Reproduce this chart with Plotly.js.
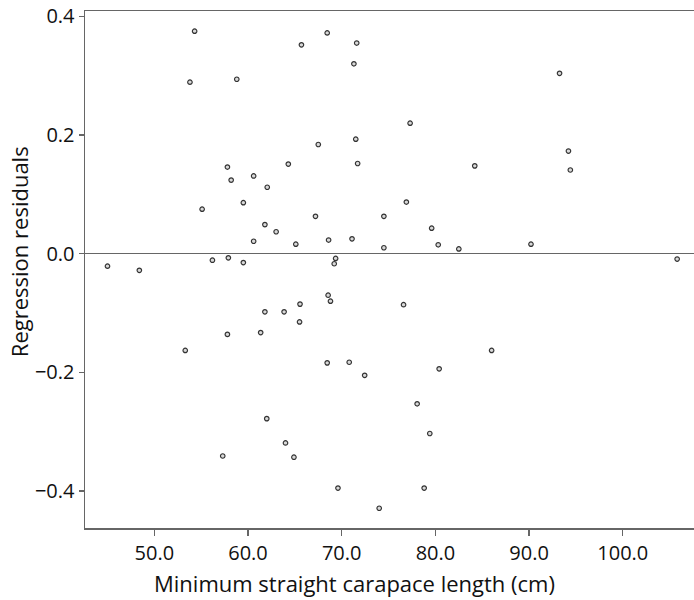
<!DOCTYPE html>
<html>
<head>
<meta charset="utf-8">
<script src="https://cdn.plot.ly/plotly-3.0.1.min.js"></script>
<style>html,body{margin:0;padding:0;background:#fff;}#chart{width:694px;height:600px;}</style>
</head>
<body>
<div id="chart"></div>
<script>
// Minimum straight carapace length (cm)
const lengthCm = [
  54.3, 53.8, 58.8, 57.8, 58.2,
  45.0, 48.4, 55.1, 56.2, 57.9, 53.3, 57.8,
  57.3,
  62.0, 64.0, 64.9, 69.6, 74.0, 78.05, 79.4, 78.8,
  59.5, 76.9, 67.2, 74.5, 61.8, 63.0, 60.6, 65.1, 68.6, 71.1, 74.5, 79.6, 80.3, 82.5,
  69.35, 69.2, 59.5, 68.55, 68.8, 65.55, 61.8, 63.85, 65.5, 61.35, 76.6, 68.45, 70.8, 72.45, 80.4,
  68.45, 65.7, 71.6, 71.3, 77.3, 71.5, 67.5, 64.3, 71.7, 60.6, 62.05, 84.2,
  93.25, 94.2, 94.4,
  90.2, 105.8, 86.0
];
// Regression residuals
const residuals = [
  0.375, 0.289, 0.294, 0.146, 0.124,
  -0.021, -0.028, 0.075, -0.011, -0.007, -0.163, -0.136,
  -0.341,
  -0.278, -0.319, -0.343, -0.395, -0.429, -0.253, -0.303, -0.395,
  0.086, 0.087, 0.063, 0.063, 0.049, 0.037, 0.021, 0.016, 0.023, 0.025, 0.010, 0.043, 0.015, 0.008,
  -0.008, -0.017, -0.015, -0.070, -0.080, -0.085, -0.098, -0.098, -0.115, -0.133, -0.086, -0.184, -0.183, -0.205, -0.194,
  0.372, 0.352, 0.355, 0.320, 0.220, 0.193, 0.184, 0.151, 0.152, 0.131, 0.112, 0.148,
  0.304, 0.173, 0.141,
  0.016, -0.009, -0.163
];
const xTitle = "Minimum straight carapace length (cm)";
const yTitle = "Regression residuals";

const font = "Open Sans, Liberation Sans, sans-serif";
const trace = {
  x: lengthCm, y: residuals, type: "scatter", mode: "markers",
  marker: {size: 4.5, color: "#d9d9d9", line: {color: "#333333", width: 1.2}},
  hoverinfo: "x+y"
};
const layout = {
  width: 694, height: 600,
  margin: {l: 85, r: 0, t: 11, b: 72},
  paper_bgcolor: "#ffffff", plot_bgcolor: "#ffffff",
  showlegend: false,
  font: {family: font, color: "#111", size: 20},
  xaxis: {
    range: [42.6, 107.6], dtick: 10, tick0: 50, tickformat: ".1f",
    showgrid: false, zeroline: false,
    showline: true, linecolor: "#666", linewidth: 1.5, mirror: true,
    ticks: "outside", ticklen: 6, tickcolor: "#666", tickwidth: 1.2,
    tickfont: {family: font, size: 20, color: "#111"}
  },
  yaxis: {
    range: [-0.4623, 0.409], dtick: 0.2, tick0: 0, tickformat: ".1f",
    showgrid: false, zeroline: true, zerolinecolor: "#666", zerolinewidth: 1.5,
    showline: true, linecolor: "#666", linewidth: 1.5,
    ticks: "outside", ticklen: 5, tickcolor: "#666", tickwidth: 1.2,
    tickfont: {family: font, size: 20, color: "#111"}
  },
  annotations: [
    {text: xTitle, xref: "paper", yref: "paper", x: (354 - 85) / 609, y: -0.107,
     xanchor: "center", yanchor: "middle", showarrow: false,
     font: {family: font, size: 22, color: "#111"}},
    {text: yTitle, xref: "paper", yref: "paper", x: (19 - 85) / 609, y: 0.5336,
     xanchor: "center", yanchor: "middle", showarrow: false, textangle: -90,
     font: {family: font, size: 22, color: "#111"}}
  ]
};
Plotly.newPlot("chart", [trace], layout, {displayModeBar: false, staticPlot: true});
</script>
</body>
</html>
